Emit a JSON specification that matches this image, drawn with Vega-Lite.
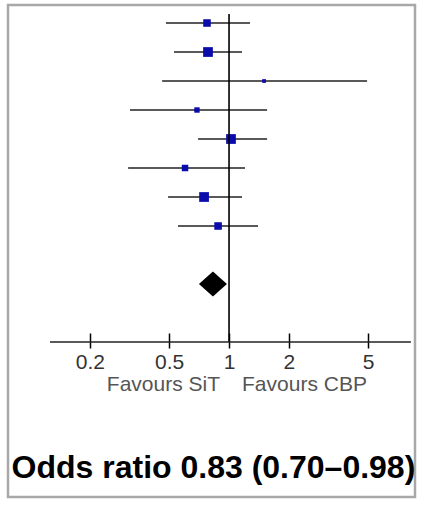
{
  "$schema": "https://vega.github.io/schema/vega-lite/v6.json",
  "width": 407,
  "height": 492,
  "autosize": "none",
  "padding": {"left": 8, "top": 5, "right": 8, "bottom": 8},
  "background": "white",
  "config": {"view": {"stroke": "#a8a8a8", "strokeWidth": 2.5}, "font": "Liberation Sans"},
  "datasets": {
    "studies": [
      {"row": 1, "or": 0.775, "lo": 0.482, "hi": 1.275, "weight": 11.8},
      {"row": 2, "or": 0.784, "lo": 0.529, "hi": 1.162, "weight": 19.6},
      {"row": 3, "or": 1.50, "lo": 0.461, "hi": 4.94, "weight": 2.9},
      {"row": 4, "or": 0.690, "lo": 0.318, "hi": 1.553, "weight": 6.0},
      {"row": 5, "or": 1.023, "lo": 0.699, "hi": 1.553, "weight": 19.6},
      {"row": 6, "or": 0.601, "lo": 0.311, "hi": 1.203, "weight": 8.7},
      {"row": 7, "or": 0.749, "lo": 0.494, "hi": 1.162, "weight": 19.6},
      {"row": 8, "or": 0.881, "lo": 0.554, "hi": 1.399, "weight": 11.8}
    ],
    "summary": [{"row": 10, "or": 0.83, "lo": 0.70, "hi": 0.98}]
  },
  "layer": [
    {
      "data": {"name": "studies"},
      "mark": {"type": "rule", "color": "#222", "strokeWidth": 1.6},
      "encoding": {
        "x": {"field": "lo", "type": "quantitative", "title": null,
          "scale": {"type": "log", "domain": [0.0775, 8.6], "nice": false},
          "axis": {"values": [0.2, 0.5, 1, 2, 5], "offset": -164, "domain": false, "ticks": true,
            "tickSize": 15, "tickColor": "black", "tickWidth": 1.5, "labelFontSize": 21,
            "labelColor": "#333", "labelPadding": 3, "grid": false, "title": null, "format": "~g",
            "labelFont": "Liberation Sans"}},
        "x2": {"field": "hi"},
        "y": {"field": "row", "type": "quantitative",
          "scale": {"domain": [0.379, 17.345], "reverse": true, "nice": false, "zero": false},
          "axis": null}
      }
    },
    {
      "data": {"name": "studies"},
      "mark": {"type": "point", "shape": "square", "filled": true, "color": "#0b0bab", "opacity": 1},
      "encoding": {
        "x": {"field": "or", "type": "quantitative", "title": null},
        "y": {"field": "row", "type": "quantitative", "axis": null},
        "size": {"field": "weight", "type": "quantitative", "legend": null,
          "scale": {"domain": [0, 19.6], "range": [0, 95]}}
      }
    },
    {
      "data": {"name": "summary"},
      "mark": {"type": "point", "shape": "M-1,0L0,-0.9L1,0L0,0.9Z", "filled": true, "color": "black", "opacity": 1, "size": 784},
      "encoding": {
        "x": {"field": "or", "type": "quantitative", "title": null},
        "y": {"field": "row", "type": "quantitative", "axis": null}
      }
    },
    {
      "data": {"values": [{}]},
      "mark": {"type": "rule", "color": "black", "strokeWidth": 1.6},
      "encoding": {
        "x": {"datum": 1, "type": "quantitative", "title": null},
        "y": {"datum": 0.69, "type": "quantitative", "axis": null},
        "y2": {"datum": 12}
      }
    },
    {
      "data": {"values": [{}]},
      "mark": {"type": "rule", "color": "#222", "strokeWidth": 1.6},
      "encoding": {
        "x": {"datum": 0.126, "type": "quantitative", "title": null},
        "x2": {"datum": 8.2},
        "y": {"datum": 12, "type": "quantitative", "axis": null}
      }
    },
    {
      "data": {"values": [{"label": "Favours SiT"}]},
      "mark": {"type": "text", "align": "right", "baseline": "middle", "dx": -9, "fontSize": 21, "color": "#555", "font": "Liberation Sans"},
      "encoding": {
        "x": {"datum": 1, "type": "quantitative", "title": null},
        "y": {"datum": 13.48, "type": "quantitative", "axis": null},
        "text": {"field": "label"}
      }
    },
    {
      "data": {"values": [{"label": "Favours CBP"}]},
      "mark": {"type": "text", "align": "left", "baseline": "middle", "dx": 13, "fontSize": 21, "color": "#555", "font": "Liberation Sans"},
      "encoding": {
        "x": {"datum": 1, "type": "quantitative", "title": null},
        "y": {"datum": 13.48, "type": "quantitative", "axis": null},
        "text": {"field": "label"}
      }
    },
    {
      "data": {"values": [{"label": "Odds ratio 0.83 (0.70–0.98)"}]},
      "mark": {"type": "text", "align": "center", "baseline": "middle", "fontSize": 32, "fontWeight": "bold", "color": "black", "font": "Liberation Sans"},
      "encoding": {
        "x": {"datum": 0.835, "type": "quantitative", "title": null},
        "y": {"datum": 16.34, "type": "quantitative", "axis": null},
        "text": {"field": "label"}
      }
    }
  ]
}
